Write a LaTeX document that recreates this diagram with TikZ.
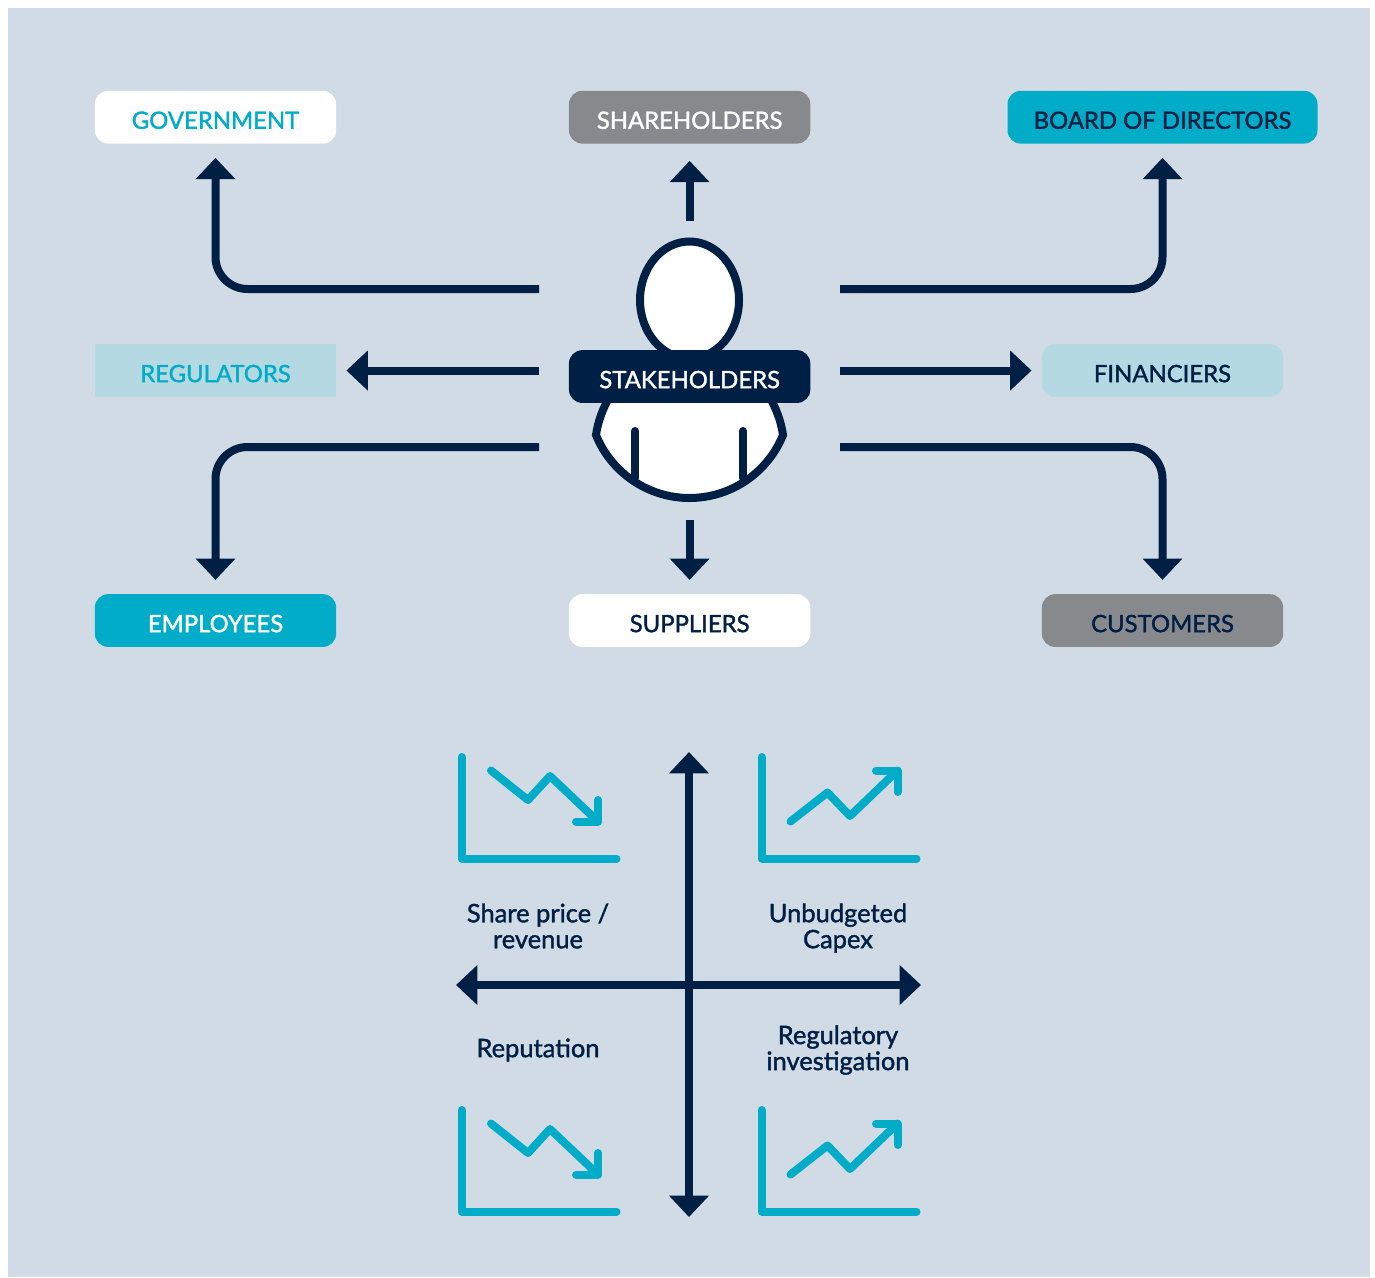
\documentclass[tikz,border=0pt]{standalone}
\usepackage{fontspec}
\setmainfont{Lato}[FakeBold=1.5]
\usetikzlibrary{arrows.meta, positioning}
\definecolor{paneblue}{HTML}{D0DBE6}
\definecolor{navy}{HTML}{001F45}
\definecolor{teal}{HTML}{00ACC8}
\definecolor{midgrey}{HTML}{87898C}
\definecolor{paleteal}{HTML}{B5D9E3}
\tikzset{
  group/.style={inner sep=0pt, text height=28.5pt, text depth=11.1pt, minimum width=181pt, rounded corners=10pt, font=\fontsize{17.9pt}{20pt}\selectfont},
  flow/.style={draw=navy, line width=6pt, -{Triangle[width=29pt,length=16pt]}, rounded corners=24pt},
  person/.style={draw=navy, fill=white, line width=6pt},
  trend/.style={draw=teal, line width=6pt, line cap=round, line join=round},
  effect/.style={text=navy, align=center, font=\fontsize{19.1pt}{19.5pt}\selectfont},
  chartdown/.pic={
    \draw[trend] (461.5,757) |- (616.5,858.5);
    \draw[trend] (491,770.5) -- (528,800) -- (550,776) -- (598,821.5);
    \draw[trend] (598,800) -- (598,821.5) -- (576,821.5);
  },
  chartup/.pic={
    \draw[trend] (761.5,757) |- (916.5,858.5);
    \draw[trend] (790.5,821.5) -- (827.5,792.5) -- (850,816) -- (897.5,770.5);
    \draw[trend] (876,770.5) -- (897.5,770.5) -- (897.5,792);
  }
}
\begin{document}
\begin{tikzpicture}[x=0.75pt, y=-0.75pt]
\useasboundingbox (0,0) rectangle (1375,1278);
\fill[paneblue] (8,8) rectangle (1370,1277);

\node[group, fill=white, text=teal](government) at (215.5,117.2) {GOVERNMENT};
\node[group, fill=midgrey, text=white](shareholders)[right = 174.2pt of government] {SHAREHOLDERS};
\node[group, fill=teal, text=navy, minimum width=232.5pt](board)[right = 147.5pt of shareholders] {BOARD OF DIRECTORS};
\node[group, fill=paleteal, text=teal, sharp corners](regulators)[below = 150pt of government] {REGULATORS};
\node[group, fill=paleteal, text=navy](financiers)[below = 150pt of board] {FINANCIERS};
\node[group, fill=teal, text=white](employees)[below = 147.5pt of regulators] {EMPLOYEES};
\node[group, fill=midgrey, text=navy](customers)[below = 147.5pt of financiers] {CUSTOMERS};

% person behind the label
\draw[person] (689.5,300) ellipse (49.5 and 58.5);
\draw[person] (610,396) .. controls (603,408) and (598,421) .. (596,435) .. controls (611.4,473) and (648.5,498) .. (689.5,498) .. controls (730.5,498) and (767.6,473) .. (783,435) .. controls (781,421) and (776,408) .. (769,396);
\draw[navy, line width=6pt, line cap=round] (635,431) -- (635,478);
\draw[navy, line width=6pt, line cap=round] (743,431) -- (743,478);
\node[group, fill=navy, text=white](stakeholders)[below = 154.5pt of shareholders] {STAKEHOLDERS};
\node[group, fill=white, text=navy](suppliers)[below = 143pt of stakeholders] {SUPPLIERS};

\coordinate (govstart) at (539,289);
\coordinate (sharestart) at (shareholders |- 0,221);
\coordinate (boardstart) at (840,289);
\coordinate (regstart) at (539,0 |- regulators);
\coordinate (finstart) at (840,0 |- financiers);
\coordinate (empstart) at (539,447);
\coordinate (supstart) at (suppliers |- 0,520);
\coordinate (cusstart) at (840,447);
\draw[flow, shorten >=10.5pt] (govstart) -| (government);
\draw[flow, shorten >=12.75pt] (sharestart) -- (shareholders);
\draw[flow, shorten >=10.5pt] (boardstart) -| (board);
\draw[flow, shorten >=7.5pt] (regstart) -- (regulators);
\draw[flow, shorten >=7.5pt] (finstart) -- (financiers);
\draw[flow, shorten >=10.5pt] (empstart) -| (employees);
\draw[flow, shorten >=10.5pt] (supstart) -- (suppliers);
\draw[flow, shorten >=10.5pt] (cusstart) -| (customers);

\coordinate (axistop) at (689,752);
\coordinate (axisbottom) at (689,1217);
\coordinate (axisleft) at (456,985);
\coordinate (axisright) at (921,985);
\draw[flow, {Triangle[width=29pt,length=16pt]}-{Triangle[width=29pt,length=16pt]}] (axistop) -- (axisbottom);
\draw[flow, {Triangle[width=29pt,length=16pt]}-{Triangle[width=29pt,length=16pt]}] (axisleft) -- (axisright);

\pic at (0,0) {chartdown};
\pic at (0,0) {chartup};
\pic at (0,353) {chartdown};
\pic at (0,353) {chartup};

\node[effect](shareprice) at (538,926) {Share price /\\revenue};
\node[effect](capex) at (838,928) {Unbudgeted\\Capex};
\node[effect](reputation) at (538,1050) {Reputation};
\node[effect](investigation) at (838,1050) {Regulatory\\investigation};
\end{tikzpicture}
\end{document}
